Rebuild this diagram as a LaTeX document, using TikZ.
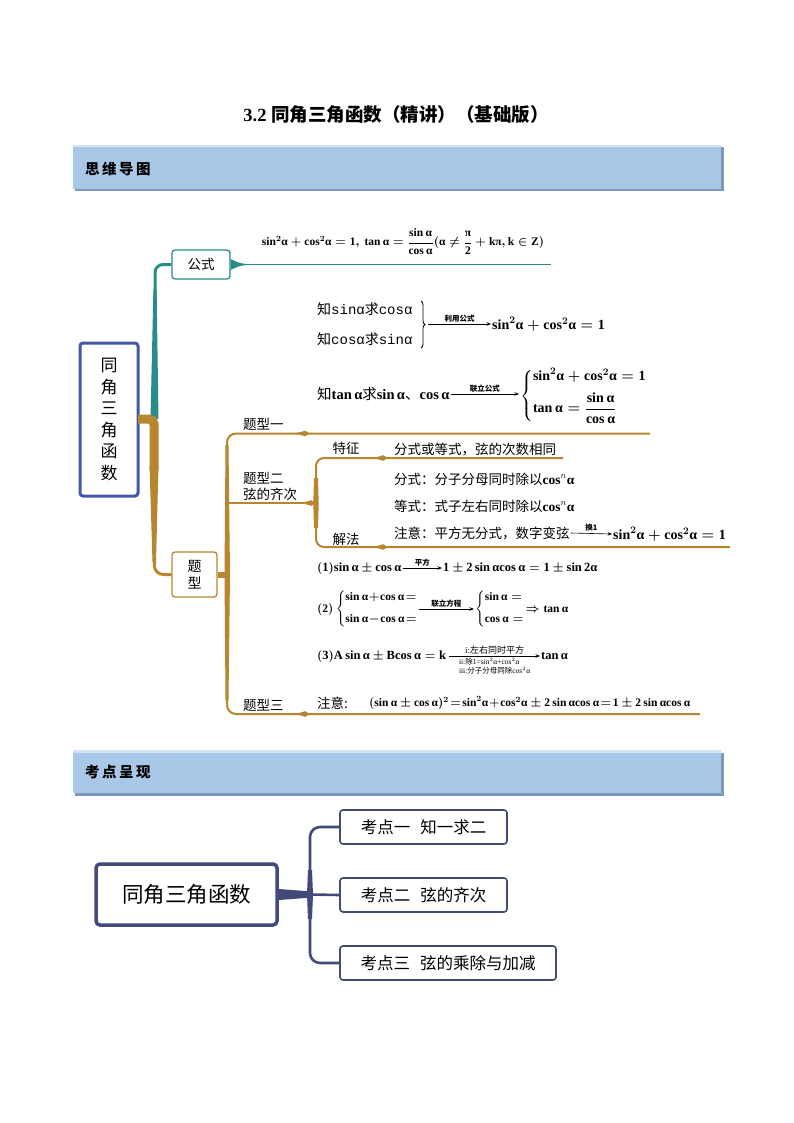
\documentclass[tikz,border=0pt]{standalone}
\usepackage{fontspec}
\usepackage{amsmath}
\setmainfont{Liberation Serif}
\newfontfamily\cjk{Noto Sans CJK SC}
\newfontfamily\monof{Liberation Mono}
\usetikzlibrary{arrows.meta,decorations.pathreplacing}
\definecolor{tealc}{HTML}{2A8C86}
\definecolor{goldc}{HTML}{B8862E}
\definecolor{rootblue}{HTML}{4456A8}
\definecolor{navyc}{HTML}{434A7A}
\definecolor{barfill}{HTML}{A9C7E6}
\definecolor{barshadow}{HTML}{7D98BA}
\definecolor{barlight}{HTML}{D3E3F3}
\newcommand\fsz[1]{\fontsize{#1}{#1}\selectfont}
\newcommand\bs[1]{\textbf{#1}}
\newcommand\mal{\bs{α}}
\newcommand\pyth{\bs{sin}^{2}\mal+\bs{cos}^{2}\mal=\bs{1}}
\newcommand\spike[3]{\fill[#3] ({#1-16},#2) .. controls ({#1-6},{#2-0.8}) .. ({#1},{#2-2.8}) -- ({#1+5},#2) -- ({#1},{#2+2.8}) .. controls ({#1-6},{#2+0.8}) .. ({#1-16},#2) -- cycle;}
\begin{document}
\begin{tikzpicture}[x=1pt,y=-1pt,
  every node/.style={inner sep=1pt},
  cjkt/.style={font={\cjk\fsz{13.5}}},
  fm/.style={font={\fsz{12.5}\boldmath}},
  fmb/.style={font={\fsz{14}\boldmath}},
  fms/.style={font={\fsz{11.5}\boldmath}},
  arr/.style={-{Stealth[length=4.5pt,width=3.5pt]},line width=0.6},
  alab/.style={font={\cjk\bfseries\fsz{7.5}},inner sep=1.5pt},
  gline/.style={goldc,line width=2},
  kbox/.style={draw=navyc,line width=1.6,rounded corners=3,minimum height=34,font={\cjk\fsz{16.5}}},
]
\useasboundingbox (0,0) rectangle (794,1123);
\fill[white] (0,0) rectangle (794,1123);

% title
\node[font={\fsz{18.5}\bfseries}] (title) at (396,115) {3.2\ {\cjk\bfseries 同角三角函数（精讲）（基础版）}};

% header bars
\fill[barshadow] (75,147.5) rectangle (723.5,191.5);
\fill[barfill] (73,145) rectangle (721,189);
\fill[barlight] (73,145) rectangle (721,147.5);
\node[anchor=west,font={\cjk\bfseries\fsz{14.5}}] (h1) at (84,169) {思\hspace{2.5pt}维\hspace{2.5pt}导\hspace{2.5pt}图};

\fill[barshadow] (75,752.5) rectangle (723.5,795.5);
\fill[barfill] (73,750) rectangle (721,793);
\fill[barlight] (73,750) rectangle (721,752.5);
\node[anchor=west,font={\cjk\bfseries\fsz{14.5}}] (h2) at (84,772) {考\hspace{2.5pt}点\hspace{2.5pt}呈\hspace{2.5pt}现};

% ---------------- mind map 1 ----------------
\node[draw=rootblue,line width=3,rounded corners=3,minimum width=58,minimum height=153,
      align=center,font={\cjk\fontsize{17}{21.5}\selectfont}] (root) at (109,419.5)
      {同\\角\\三\\角\\函\\数};

\node[draw=tealc,line width=1.3,rounded corners=3,minimum width=58,minimum height=29,cjkt] (gs) at (201,264.5) {公式};
\node[draw=goldc,line width=1.3,rounded corners=3,minimum width=45,minimum height=45,align=center,
      font={\cjk\fontsize{14}{16.5}\selectfont}] (tx) at (194.5,574.5) {题\\型};

% teal branch
\coordinate (tstem) at (155,300);
\fill[tealc] (150.5,419) -- (158.5,419) -- (156.6,290) -- (153.4,290) -- cycle;
\draw[tealc,line width=3,rounded corners=8] (tstem) |- (gs.west);
\coordinate (gsEnd) at (551,264.5);
\fill[tealc] (gs.east |- 0,259) .. controls (240,263.5) .. (252,264.5) .. controls (240,265.5) .. (gs.east |- 0,270) -- cycle;
\draw[tealc,line width=1.8] (gs.east) -- (gsEnd);

\node[font={\fsz{11.5}\boldmath}] (f0) at (403,242)
  {$\pyth,\ \bs{tan}\,\mal=\dfrac{\bs{sin}\,\mal}{\bs{cos}\,\mal}(\mal\neq\dfrac{\bs{π}}{\bs{2}}+\bs{kπ},\bs{k}\in\bs{Z})$};

% gold trunk
\coordinate (rj) at (138,419);
\draw[goldc,line width=9,rounded corners=5] (rj) -- (154,419) -- (154,470);
\fill[goldc] (149.5,465) -- (158.5,465) -- (156,562) -- (152.5,562) -- cycle;
\coordinate (gstem) at (154.3,550);
\draw[goldc,line width=3,rounded corners=9] (gstem) |- (tx.west);

% type sub-trunk
\coordinate (tj) at (227,574.5);
\draw[goldc,line width=6] (tx.east) -- (tj);
\fill[goldc] (225.5,445) -- (228.5,445) -- (230,574.5) -- (228.5,700) -- (225.5,700) -- (224.5,574.5) -- cycle;
\coordinate (t1end) at (650,433.5);
\coordinate (t3end) at (700,714);
\coordinate (j2) at (316,503);
\draw[gline,rounded corners=9] (227,470) |- (t1end);
\draw[gline,rounded corners=9] (227,680) |- (t3end);
\draw[gline] (227,503) -- (j2);
\spike{305}{433.5}{goldc}
\spike{305}{714}{goldc}
\spike{311}{503}{goldc}

\node[cjkt,anchor=west] (ty1) at (242,424) {题型一};
\node[cjkt,anchor=west,align=left,font={\cjk\fontsize{13.5}{16}\selectfont}] (ty2) at (242,486) {题型二\\弦的齐次};
\node[cjkt,anchor=west] (ty3) at (242,705) {题型三};

% sub-branch of type two
\coordinate (tzEnd) at (563,458);
\coordinate (jfEnd) at (730,547);
\fill[goldc] (314,478) -- (318,478) -- (318.7,503) -- (318,528) -- (314,528) -- (313.3,503) -- cycle;
\draw[gline,rounded corners=8] (316,485) |- (tzEnd);
\draw[gline,rounded corners=8] (316,520) |- (jfEnd);
\spike{383}{458}{goldc}
\spike{383}{547}{goldc}
\node[cjkt] (tz) at (346,448) {特征};
\node[cjkt] (jf) at (346,539) {解法};

\node[cjkt,anchor=west] (c1) at (393,450) {分式或等式，弦的次数相同};
\node[cjkt,anchor=west] (c2) at (393,479) {分式：分子分母同时除以{\rmfamily\bfseries cos$^{n}$α}};
\node[cjkt,anchor=west] (c3) at (393,506) {等式：式子左右同时除以{\rmfamily\bfseries cos$^{n}$α}};
\node[cjkt,anchor=west] (c4) at (393,533) {注意：平方无分式，数字变弦};
\node[fmb,anchor=west] (f4) at (612,534) {$\pyth$};
\draw[arr] (c4.east) -- (f4.west) node[midway,above,alab] (l4) {换1};

% type one contents
\node[anchor=west,font={\fsz{14}}] (k1) at (316,309) {{\cjk 知}{\monof sinα}{\cjk 求}{\monof cosα}};
\node[anchor=west,font={\fsz{14}}] (k2) at (316,339) {{\cjk 知}{\monof cosα}{\cjk 求}{\monof sinα}};
\coordinate (b1t) at (421,301);
\coordinate (b1b) at (421,348);
\draw[line width=0.8,decorate,decoration={brace,amplitude=4pt}] (b1t) -- (b1b);
\coordinate (a1s) at (428,324);
\node[fmb,anchor=west] (f1) at (491,324) {$\pyth$};
\draw[arr] (a1s) -- (f1.west) node[midway,above,alab] (l1) {利用公式};

\node[anchor=west,font={\fsz{14.5}}] (k3) at (316,394) {{\cjk 知}\bs{tan}\,\mal{\cjk 求}\bs{sin}\,\mal{\cjk 、}\bs{cos}\,\mal};
\node[fmb,anchor=west] (sys1) at (519,396)
  {$\left\{\begin{array}{@{}l@{}}\pyth\\[8pt]\bs{tan}\,\mal=\dfrac{\bs{sin}\,\mal}{\bs{cos}\,\mal}\end{array}\right.$};
\draw[arr] (k3.east) -- (k3.east -| sys1.west) node[midway,above,alab] (l2) {联立公式};

% type three contents
\node[fm,anchor=west] (r1a) at (316,568) {$(\bs{1})\bs{sin}\,\mal\pm\bs{cos}\,\mal$};
\node[fm,anchor=west] (r1b) at (442,568) {$\bs{1}\pm\bs{2}\,\bs{sin}\,\mal\bs{cos}\,\mal=\bs{1}\pm\bs{sin}\,\bs{2}\mal$};
\draw[arr] (r1a.east) -- (r1b.west) node[midway,above,alab] (l3) {平方};

\node[fms,anchor=west] (r2a) at (316,609)
  {$(\bs{2})\left\{\begin{array}{@{}l@{}}\bs{sin}\,\mal\!+\!\bs{cos}\,\mal\!=\\[11pt]\bs{sin}\,\mal\!-\!\bs{cos}\,\mal\!=\end{array}\right.$};
\node[fms,anchor=west] (r2b) at (474,609)
  {$\left\{\begin{array}{@{}l@{}}\bs{sin}\,\mal=\\[11pt]\bs{cos}\,\mal=\end{array}\right.\!\Rightarrow\bs{tan}\,\mal$};
\draw[arr] (r2a.east) -- (r2b.west) node[midway,above,alab] (l5) {联立方程};

\node[fm,anchor=west] (r3a) at (316,656) {$(\bs{3})\bs{A}\,\bs{sin}\,\mal\pm\bs{B}\bs{cos}\,\mal=\bs{k}$};
\node[fm,anchor=west] (r3b) at (540,656) {$\bs{tan}\,\mal$};
\draw[arr] ([xshift=2pt]r3a.east) -- (r3b.west)
  node[midway,above,font={\fsz{9}},inner sep=1.5pt] (l6) {i:{\cjk 左右同时平方}}
  node[midway,below,font={\fontsize{7.5}{9}\selectfont},align=left,inner sep=1.5pt] (l7)
  {ii:{\cjk 除}1=sin$^{2}$α+cos$^{2}$α\\iii:{\cjk 分子分母同除}cos$^{2}$α};

\node[cjkt,anchor=west] (r4a) at (316,703) {注意:};
\node[fms,anchor=west] (r4b) at (368,703)
  {$(\bs{sin}\,\mal\pm\bs{cos}\,\mal)^{2}\!=\!\bs{sin}^{2}\mal\!+\!\bs{cos}^{2}\mal\pm\bs{2}\,\bs{sin}\,\mal\bs{cos}\,\mal\!=\!\bs{1}\pm\bs{2}\,\bs{sin}\,\mal\bs{cos}\,\mal$};

% ---------------- mind map 2 ----------------
\node[draw=navyc,line width=3.5,rounded corners=4,minimum width=181,minimum height=61,
      font={\cjk\fsz{21.5}}] (m2) at (186.5,894.5) {同角三角函数};
\node[kbox,minimum width=167] (kb1) at (423.5,827) {考点一\hspace{10pt}知一求二};
\node[kbox,minimum width=167] (kb2) at (423.5,895) {考点二\hspace{10pt}弦的齐次};
\node[kbox,minimum width=216] (kb3) at (448,963) {考点三\hspace{10pt}弦的乘除与加减};
\coordinate (jn) at (310,894.5);
\fill[navyc] (m2.east |- 0,889) -- (m2.east |- 0,900) -- (312,897.5) -- (312,891.5) -- cycle;
\fill[navyc] (308,870) -- (312,870) -- (313,894.5) -- (312,919) -- (308,919) -- (307,894.5) -- cycle;
\draw[navyc,line width=2.6,rounded corners=10] (kb1.west) -| (jn) |- (kb3.west);
\draw[navyc,line width=2.6] (jn) -- (kb2.west);
\end{tikzpicture}
\end{document}
